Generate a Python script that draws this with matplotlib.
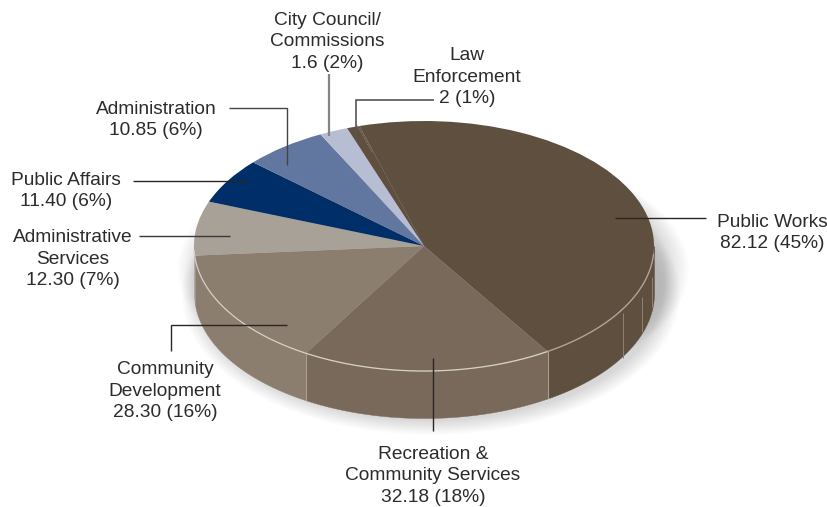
import numpy as np
import matplotlib
matplotlib.use('Agg')
import matplotlib.pyplot as plt
from matplotlib.patches import Ellipse

# departments, clockwise from the top of the pie
names = ['Public Works', 'Recreation &\nCommunity Services', 'Community\nDevelopment',
         'Administrative\nServices', 'Public Affairs', 'Administration',
         'City Council/\nCommissions', 'Law\nEnforcement']
amounts = ['82.12', '32.18', '28.30', '12.30', '11.40', '10.85', '1.6', '2']
percents = [45, 18, 16, 7, 6, 6, 2, 1]
# slice sizes as they are drawn in the picture (%)
shares = [45.5, 17.6, 15.2, 7.0, 5.9, 5.9, 2.0, 0.9]
colors = ['#5f4f3f', '#79695a', '#8b7e6e', '#a8a198', '#002e68', '#62779f', '#b7bdd2', '#5f4f3f']

label_pos = [(772, 233), (433, 476), (165, 391), (73, 259), (66, 191), (156, 120), (327, 42), (467, 77)]
leaders = [[(615, 218), (706, 218)],
           [(433, 358), (433, 431)],
           [(287, 325), (171, 325), (171, 351)],
           [(230, 236), (139, 236)],
           [(248, 181), (133, 181)],
           [(229, 108), (287, 108), (287, 165)],
           [(329, 74), (329, 136)],
           [(434, 100), (356, 100), (356, 137)]]
leader_colors = ['#2b2622', '#2b2622', '#2b2622', '#3a3a3a', '#2b2622', '#444444', '#858585', '#555555']
leader_widths = [1, 1, 1, 1, 1, 1, 1.6, 1.2]

W, H = 827, 507
CX, CY, RX, RY = 424, 246, 230, 125
DEPTH = 47 / RY
START = 106.3

plt.rcParams['font.family'] = ['Liberation Sans', 'DejaVu Sans']
fig = plt.figure(figsize=(W / 100, H / 100), dpi=100)

ax = fig.add_axes([0, 0, 1, 1])
ax.pie(shares, colors=colors, startangle=START, counterclock=False, radius=1,
       wedgeprops={'linewidth': 0, 'zorder': 5})
ax.set_aspect('auto')
ax.set_xlim(-CX / RX, (W - CX) / RX)
ax.set_ylim((CY - H) / RY, CY / RY)
ax.axis('off')

# soft shadow under the disc, falls to the lower right
for k in range(20):
    grow = 0.14 - k * 0.007
    ax.add_patch(Ellipse((0.03, -DEPTH - 0.01), 2 * (1 + grow * 0.6), 2 * (1 + grow * 0.9),
                         fc='#808080', ec='none', alpha=0.014, zorder=0))
    ax.add_patch(Ellipse((0.04, -DEPTH * 0.5), 2 * (1 + grow * 0.8), 2 * (1 + grow * 0.1),
                         fc='#808080', ec='none', alpha=0.014, zorder=0))

# side wall, only the front half of the rim shows
edges = START - 3.6 * np.concatenate([[0], np.cumsum(shares)])
for i, c in enumerate(colors):
    hi = min(edges[i], 0)
    lo = max(edges[i + 1], -180)
    if hi <= lo:
        continue
    t = np.radians(np.linspace(hi, lo, 80))
    ax.fill_between(np.cos(t), np.sin(t), np.sin(t) - DEPTH, color=c, lw=0.3, zorder=3)
    if -180 < lo and i < 2:
        ax.plot([np.cos(t[-1])] * 2, [np.sin(t[-1]), np.sin(t[-1]) - DEPTH],
                color='#a89f92', lw=0.8, zorder=4)

# light rim along the front edge, duller on the big slice
t = np.radians(np.linspace(edges[1], -178, 160))
ax.plot(np.cos(t), np.sin(t), color='#d6d0c6', lw=0.9, zorder=6)
t = np.radians(np.linspace(-4, edges[1], 80))
ax.plot(np.cos(t), np.sin(t), color='#ada598', lw=0.9, zorder=6)

# overlay in picture pixels for labels and leader lines
ov = fig.add_axes([0, 0, 1, 1])
ov.set_xlim(0, W)
ov.set_ylim(H, 0)
ov.axis('off')
ov.patch.set_alpha(0)

# seams on the wall of the big slice
ov.vlines([623, 642, 652], [313, 297, 277], [358, 332, 307], color='#8d8275', lw=0.7)
# faint seam of the thin slice
ov.plot([357, 372], [125, 152], color='#9a8f82', lw=0.6, ls=(0, (1, 1)))

for pts, c, lw in zip(leaders, leader_colors, leader_widths):
    xs, ys = zip(*pts)
    ov.plot(xs, ys, color=c, lw=lw, solid_joinstyle='miter', solid_capstyle='butt')

for name, amt, pct, (x, y) in zip(names, amounts, percents, label_pos):
    ov.text(x, y, f'{name}\n{amt} ({pct}%)', ha='center', va='center', fontsize=13.8,
            color='#2b2b2b', linespacing=1.32)

fig.savefig('out.png', dpi=100)
